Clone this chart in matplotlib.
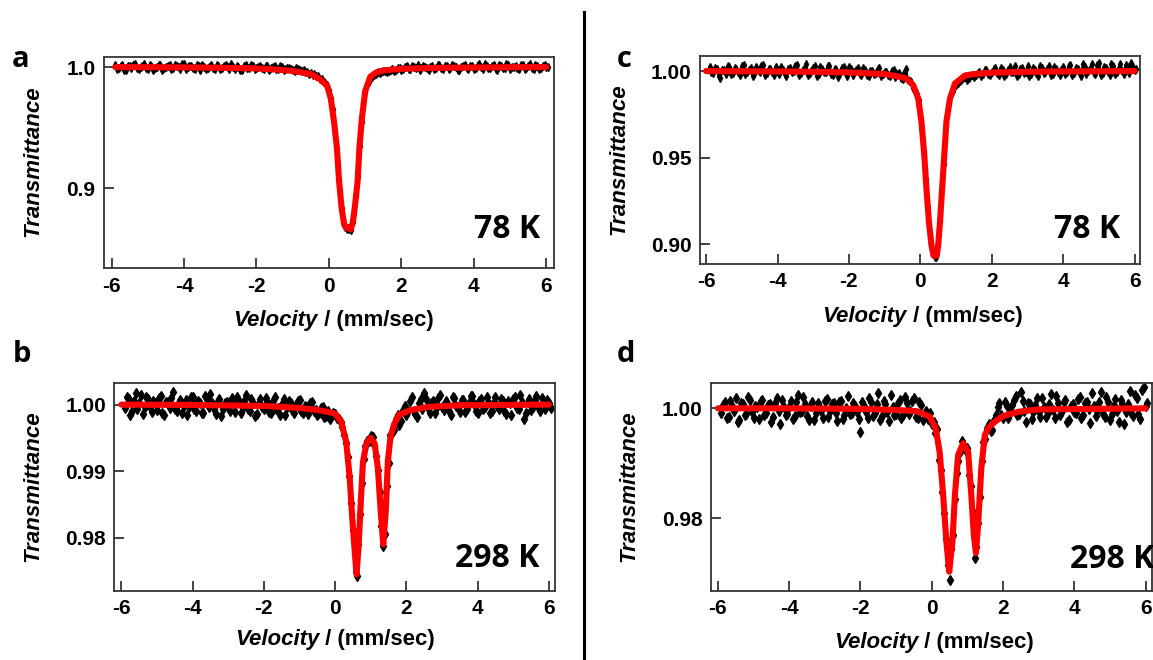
import numpy as np
import matplotlib
matplotlib.use("Agg")
import matplotlib.pyplot as plt
from matplotlib.lines import Line2D

# channel velocities (mm/s) of the measured points, shared by all four spectra
velocity = np.round(np.arange(-5.9, 6.05, 0.1), 2)
velocity2 = np.round(np.arange(-5.85, 6.06, 0.1), 2)

# a : 78 K
trans_a = [1.0015, 0.9992, 1.0020, 0.9975, 1.0006, 1.0018, 0.9988, 0.9997, 1.0022, 0.9981,
           1.0009, 0.9995, 1.0014, 0.9978, 1.0003, 1.0017, 0.9990, 1.0005, 0.9984, 1.0024,
           0.9996, 1.0011, 0.9980, 1.0008, 1.0019, 0.9987, 1.0001, 0.9993, 1.0016, 0.9983,
           1.0010, 0.9998, 1.0021, 0.9986, 1.0004, 0.9979, 1.0013, 0.9994, 1.0007, 0.9988,
           1.0012, 0.9982, 1.0005, 0.9991, 1.0008, 0.9985, 0.9996, 0.9980, 0.9992, 0.9978,
           0.9988, 0.9972, 0.9979, 0.9962, 0.9950, 0.9941, 0.9922, 0.9898, 0.9870, 0.9812,
           0.9655, 0.9388, 0.8985, 0.8742, 0.8668, 0.8652, 0.8796, 0.9102, 0.9548, 0.9795,
           0.9878, 0.9918, 0.9940, 0.9952, 0.9963, 0.9958, 0.9975, 0.9968, 0.9989, 0.9979,
           0.9996, 0.9983, 1.0008, 0.9990, 0.9977, 1.0012, 0.9995, 1.0004, 0.9981, 1.0015,
           0.9993, 1.0009, 0.9986, 1.0020, 0.9997, 0.9979, 1.0011, 0.9990, 1.0006, 0.9984,
           1.0018, 0.9996, 1.0023, 0.9988, 1.0007, 0.9980, 1.0014, 0.9993, 1.0021, 0.9985,
           1.0004, 0.9991, 1.0017, 0.9982, 1.0010, 0.9995, 1.0019, 0.9987, 1.0008, 1.0002]
trans_a2 = [0.9986, 1.0011, 0.9979, 1.0007, 0.9994, 1.0021, 0.9983, 1.0010, 0.9990, 1.0016,
            0.9977, 1.0004, 1.0019, 0.9989, 1.0008, 0.9981, 1.0013, 0.9997, 1.0022, 0.9985,
            1.0006, 0.9992, 1.0017, 0.9978, 1.0003, 0.9995, 1.0014, 0.9982, 1.0009, 0.9991,
            1.0018, 0.9984, 1.0002, 1.0011, 0.9976, 1.0007, 0.9993, 1.0015, 0.9980, 1.0004,
            0.9989, 1.0010, 0.9977, 1.0001, 0.9986, 1.0006, 0.9975, 0.9994, 0.9983, 0.9969,
            0.9981, 0.9965, 0.9958, 0.9946, 0.9938, 0.9925, 0.9905, 0.9878, 0.9848, 0.9742,
            0.9538, 0.9205, 0.8838, 0.8682, 0.8668, 0.8718, 0.8935, 0.9345, 0.9695, 0.9858,
            0.9915, 0.9938, 0.9955, 0.9962, 0.9971, 0.9966, 0.9982, 0.9973, 0.9992, 0.9987,
            1.0005, 0.9984, 0.9997, 1.0014, 0.9988, 1.0002, 0.9979, 1.0010, 0.9994, 1.0018,
            0.9985, 1.0007, 0.9991, 1.0012, 0.9977, 1.0003, 1.0016, 0.9986, 1.0009, 0.9992,
            1.0021, 0.9983, 1.0006, 0.9994, 1.0015, 0.9978, 1.0011, 0.9989, 1.0019, 0.9996,
            1.0008, 0.9981, 1.0013, 0.9993, 1.0024, 0.9986, 1.0005, 0.9990, 1.0017, 0.9999]
fit_v_a = [-5.9, -5.0, -4.0, -3.0, -2.0, -1.5, -1.0, -0.5, -0.25, -0.05, 0.05, 0.14, 0.22, 0.28,
           0.35, 0.42, 0.48, 0.54, 0.60, 0.66, 0.72, 0.79, 0.84, 0.91, 1.0, 1.14, 1.3, 1.5, 2.0,
           3.0, 4.0, 5.0, 6.0]
fit_t_a = [0.9999, 0.9998, 0.9997, 0.9994, 0.9988, 0.9980, 0.9968, 0.9942, 0.9900, 0.9845,
           0.9740, 0.9550, 0.9330, 0.9055, 0.8835, 0.8700, 0.8670, 0.8680, 0.8660, 0.8720,
           0.8860, 0.9055, 0.9330, 0.9580, 0.9800, 0.9920, 0.9955, 0.9972, 0.9985, 0.9993,
           0.9996, 0.9998, 0.9999]

# b : 298 K
trans_b = [0.9995, 1.0008, 0.9990, 1.0017, 1.0003, 0.9986, 1.0011, 0.9997, 1.0006, 0.9992,
           1.0013, 0.9985, 1.0004, 1.0010, 0.9993, 1.0001, 0.9988, 1.0007, 0.9996, 1.0012,
           0.9991, 1.0003, 0.9987, 1.0009, 1.0016, 0.9994, 1.0005, 0.9983, 1.0002, 0.9997,
           1.0010, 0.9989, 1.0006, 0.9995, 1.0014, 0.9991, 1.0002, 0.9986, 1.0008, 0.9993,
           1.0004, 0.9988, 1.0011, 0.9995, 1.0001, 0.9984, 1.0006, 0.9992, 0.9999, 1.0007,
           0.9987, 0.9996, 1.0002, 0.9990, 0.9985, 0.9995, 0.9981, 0.9990, 0.9984, 0.9986,
           0.9978, 0.9966, 0.9942, 0.9893, 0.9812, 0.9743, 0.9835, 0.9918, 0.9946, 0.9953,
           0.9940, 0.9902, 0.9818, 0.9805, 0.9912, 0.9958, 0.9978, 0.9969, 0.9992, 0.9985,
           1.0006, 0.9990, 0.9981, 1.0008, 1.0018, 0.9995, 1.0003, 0.9987, 1.0010, 0.9996,
           1.0005, 0.9991, 1.0012, 0.9998, 0.9989, 1.0007, 0.9994, 1.0013, 1.0001, 0.9988,
           1.0009, 0.9997, 1.0004, 0.9990, 1.0011, 0.9993, 1.0006, 0.9986, 1.0002, 1.0008,
           0.9995, 1.0015, 0.9978, 1.0004, 0.9992, 1.0007, 0.9997, 1.0010, 0.9994, 1.0003]
trans_b2 = [1.0012, 0.9984, 1.0005, 0.9993, 1.0015, 0.9997, 1.0008, 0.9989, 1.0002, 1.0010,
            0.9987, 1.0004, 0.9995, 1.0019, 0.9990, 1.0007, 0.9998, 0.9985, 1.0011, 0.9994,
            1.0006, 0.9988, 1.0013, 0.9996, 1.0002, 0.9986, 1.0009, 0.9993, 1.0004, 0.9990,
            1.0001, 1.0012, 0.9987, 1.0005, 0.9994, 1.0008, 0.9983, 1.0003, 0.9996, 1.0010,
            0.9989, 1.0006, 0.9993, 0.9984, 1.0008, 0.9997, 1.0003, 0.9988, 1.0005, 0.9991,
            0.9998, 0.9986, 1.0004, 0.9992, 0.9988, 0.9997, 0.9983, 0.9978, 0.9988, 0.9980,
            0.9974, 0.9955, 0.9921, 0.9852, 0.9776, 0.9790, 0.9882, 0.9938, 0.9945, 0.9951,
            0.9923, 0.9868, 0.9788, 0.9878, 0.9955, 0.9962, 0.9985, 0.9975, 0.9998, 0.9990,
            1.0012, 0.9986, 1.0003, 0.9994, 1.0009, 0.9988, 1.0006, 0.9997, 1.0014, 0.9992,
            1.0003, 0.9985, 1.0010, 0.9996, 1.0007, 0.9989, 1.0002, 1.0013, 0.9991, 1.0005,
            0.9994, 1.0011, 0.9987, 1.0004, 0.9998, 1.0009, 0.9990, 1.0006, 0.9984, 1.0012,
            0.9993, 1.0004, 0.9987, 1.0009, 0.9996, 1.0013, 0.9991, 1.0002, 1.0007, 0.9995]
fit_v_b = [-6.0, -4.0, -2.0, -1.0, -0.5, -0.2, 0.0, 0.17, 0.31, 0.41, 0.48, 0.55, 0.60, 0.66,
           0.72, 0.78, 0.88, 1.0, 1.11, 1.20, 1.28, 1.35, 1.42, 1.48, 1.55, 1.65, 1.8, 2.1, 2.6,
           3.5, 6.0]
fit_t_b = [1.0, 0.99995, 0.9998, 0.9995, 0.9992, 0.9989, 0.99865, 0.9974, 0.9944, 0.9889,
           0.9829, 0.9779, 0.9745, 0.9789, 0.9854, 0.9914, 0.99415, 0.9950, 0.99415, 0.9904,
           0.9839, 0.9790, 0.9840, 0.9915, 0.9950, 0.9970, 0.9985, 0.99915, 0.99965, 0.9999, 1.0]

# c : 78 K
trans_c = [1.0025, 0.9990, 1.0012, 0.9958, 1.0006, 1.0030, 0.9985, 1.0018, 0.9996, 1.0027,
           0.9981, 1.0009, 0.9970, 1.0022, 0.9993, 1.0035, 0.9988, 1.0014, 0.9976, 1.0004,
           1.0026, 0.9984, 1.0011, 0.9995, 1.0031, 0.9979, 1.0008, 1.0040, 0.9990, 1.0016,
           0.9973, 1.0021, 0.9997, 1.0028, 0.9982, 1.0010, 0.9968, 1.0019, 0.9992, 1.0024,
           0.9978, 1.0005, 0.9986, 1.0015, 0.9975, 1.0001, 0.9983, 1.0012, 0.9970, 0.9994,
           0.9979, 1.0003, 0.9966, 0.9988, 0.9952, 1.0014, 0.9945, 0.9905, 0.9868, 0.9760,
           0.9540, 0.9218, 0.9005, 0.8928, 0.9003, 0.9338, 0.9625, 0.9810, 0.9885, 0.9918,
           0.9942, 0.9960, 0.9948, 0.9972, 0.9965, 0.9988, 0.9970, 1.0004, 0.9981, 0.9993,
           1.0016, 0.9978, 1.0008, 0.9986, 1.0023, 0.9995, 0.9969, 1.0012, 0.9990, 1.0027,
           0.9981, 1.0005, 0.9974, 1.0018, 0.9997, 1.0030, 0.9984, 1.0010, 0.9976, 1.0021,
           0.9992, 1.0034, 0.9987, 1.0013, 0.9971, 1.0025, 0.9998, 1.0038, 0.9983, 1.0044,
           0.9990, 1.0016, 0.9978, 1.0029, 0.9995, 1.0041, 0.9986, 1.0023, 1.0048, 1.0007]
trans_c2 = [0.9994, 1.0019, 0.9972, 1.0008, 0.9986, 1.0024, 0.9990, 1.0013, 0.9978, 1.0033,
            0.9995, 1.0017, 0.9983, 1.0006, 1.0029, 0.9976, 1.0011, 0.9992, 1.0025, 0.9981,
            1.0009, 0.9969, 1.0020, 0.9998, 1.0036, 0.9987, 1.0014, 0.9975, 1.0003, 1.0027,
            0.9984, 1.0012, 0.9993, 1.0031, 0.9977, 1.0006, 0.9989, 1.0022, 0.9971, 1.0010,
            0.9996, 1.0018, 0.9980, 1.0007, 0.9969, 1.0003, 0.9988, 1.0015, 0.9982, 0.9997,
            0.9974, 1.0008, 0.9985, 0.9960, 0.9991, 0.9948, 0.9935, 0.9892, 0.9835, 0.9655,
            0.9378, 0.9090, 0.8960, 0.8925, 0.9135, 0.9462, 0.9738, 0.9860, 0.9908, 0.9932,
            0.9951, 0.9966, 0.9958, 0.9980, 0.9975, 0.9994, 0.9983, 1.0009, 0.9977, 1.0012,
            0.9988, 1.0020, 0.9972, 1.0006, 0.9993, 1.0028, 0.9982, 1.0015, 0.9996, 0.9973,
            1.0019, 0.9987, 1.0032, 0.9991, 1.0011, 0.9979, 1.0026, 0.9994, 1.0008, 0.9985,
            1.0030, 0.9975, 1.0017, 0.9996, 1.0039, 0.9982, 1.0012, 0.9990, 1.0035, 0.9978,
            1.0022, 0.9993, 1.0043, 0.9984, 1.0016, 0.9998, 1.0037, 0.9989, 1.0026, 1.0011]
fit_v_c = [-6.0, -4.0, -3.0, -2.0, -1.5, -1.0, -0.6, -0.4, -0.2, -0.06, 0.03, 0.11, 0.17, 0.24,
           0.31, 0.37, 0.41, 0.46, 0.50, 0.55, 0.61, 0.67, 0.73, 0.83, 0.97, 1.25, 1.6, 2.0,
           3.0, 4.0, 6.0]
fit_t_c = [1.0, 0.9998, 0.9996, 0.9992, 0.9988, 0.9983, 0.9968, 0.9958, 0.9919, 0.9842,
           0.9708, 0.9516, 0.9323, 0.9130, 0.8997, 0.8935, 0.8945, 0.8935, 0.8997, 0.9130,
           0.9323, 0.9516, 0.9708, 0.9842, 0.9929, 0.9975, 0.9985, 0.9991, 0.9996, 0.9998, 1.0]

# d : 298 K
trans_d = [0.9992, 1.0012, 0.9985, 1.0004, 1.0018, 0.9979, 1.0008, 0.9990, 1.0015, 0.9983,
           1.0002, 1.0013, 0.9987, 1.0006, 0.9976, 1.0010, 0.9995, 1.0016, 0.9988, 1.0003,
           0.9981, 1.0011, 0.9993, 1.0020, 0.9986, 1.0005, 0.9978, 1.0009, 0.9996, 1.0014,
           0.9984, 1.0007, 0.9991, 1.0012, 0.9980, 1.0001, 0.9989, 1.0010, 0.9994, 0.9957,
           1.0005, 0.9983, 1.0012, 0.9992, 1.0027, 0.9986, 1.0008, 0.9977, 1.0003, 0.9990,
           1.0015, 0.9988, 1.0010, 0.9996, 1.0018, 0.9983, 1.0006, 0.9989, 0.9981, 0.9972,
           0.9955, 0.9906, 0.9848, 0.9762, 0.9688, 0.9770, 0.9882, 0.9920, 0.9930, 0.9928,
           0.9858, 0.9727, 0.9792, 0.9905, 0.9945, 0.9972, 0.9961, 0.9988, 1.0009, 0.9983,
           1.0004, 0.9992, 1.0016, 0.9987, 1.0030, 0.9995, 1.0010, 0.9981, 1.0006, 0.9993,
           1.0019, 0.9984, 1.0008, 0.9997, 1.0022, 0.9988, 1.0011, 0.9976, 1.0005, 0.9994,
           1.0017, 0.9982, 1.0009, 0.9999, 1.0028, 0.9986, 1.0012, 0.9990, 1.0021, 0.9979,
           1.0006, 0.9995, 1.0015, 0.9972, 1.0008, 0.9991, 1.0024, 0.9989, 1.0033, 1.0004]
trans_d2 = [1.0006, 0.9982, 1.0014, 0.9995, 0.9975, 1.0010, 0.9988, 1.0021, 0.9993, 1.0004,
            0.9980, 1.0016, 0.9991, 1.0008, 0.9985, 1.0019, 0.9972, 1.0003, 0.9990, 1.0013,
            0.9986, 1.0024, 0.9995, 1.0007, 0.9979, 1.0012, 0.9992, 1.0005, 0.9983, 1.0017,
            0.9996, 1.0009, 0.9977, 1.0014, 0.9988, 1.0022, 0.9991, 1.0004, 0.9981, 1.0011,
            0.9994, 1.0018, 0.9986, 1.0007, 0.9979, 1.0013, 0.9993, 1.0025, 0.9987, 1.0009,
            0.9982, 1.0020, 0.9990, 1.0014, 0.9985, 1.0011, 0.9978, 0.9995, 0.9992, 0.9976,
            0.9962, 0.9888, 0.9810, 0.9716, 0.9745, 0.9835, 0.9905, 0.9940, 0.9922, 0.9878,
            0.9812, 0.9748, 0.9838, 0.9938, 0.9965, 0.9958, 0.9979, 1.0002, 0.9987, 1.0011,
            0.9983, 1.0006, 1.0022, 0.9990, 1.0013, 0.9976, 1.0008, 0.9994, 1.0018, 0.9985,
            1.0003, 0.9991, 1.0026, 0.9983, 1.0010, 0.9996, 1.0015, 0.9978, 1.0007, 0.9992,
            1.0020, 0.9987, 1.0011, 0.9974, 1.0005, 0.9995, 1.0029, 0.9984, 1.0012, 0.9990,
            1.0017, 0.9976, 1.0008, 0.9993, 1.0031, 0.9986, 1.0019, 0.9981, 1.0038, 1.0009]
fit_v_d = [-6.0, -4.0, -2.0, -1.0, -0.43, -0.06, 0.11, 0.22, 0.32, 0.41, 0.49, 0.58, 0.65,
           0.74, 0.88, 1.02, 1.11, 1.18, 1.24, 1.30, 1.39, 1.49, 1.6, 1.71, 2.0, 2.43, 3.0, 6.0]
fit_t_d = [1.0, 1.0, 0.9999, 0.9997, 0.9995, 0.9985, 0.99636, 0.9921, 0.98424, 0.97575,
           0.9703, 0.97575, 0.98424, 0.9915, 0.99364, 0.9921, 0.98424, 0.9770, 0.9737, 0.97878,
           0.98909, 0.99515, 0.9965, 0.99727, 0.9986, 0.99938, 0.9998, 1.0]

temps = ["78 K", "298 K", "78 K", "298 K"]
letters = ["a", "b", "c", "d"]

for arr in (trans_a, trans_b, trans_c, trans_d):
    assert len(arr) == len(velocity), len(arr)
for arr in (trans_a2, trans_b2, trans_c2, trans_d2):
    assert len(arr) == len(velocity2), len(arr)

W, H = 1153, 660
fig = plt.figure(figsize=(W / 100, H / 100), dpi=100)

def px_axes(left, top, right, bottom):
    return fig.add_axes([left / W, 1 - bottom / H, (right - left) / W, (bottom - top) / H])

panels = [
    dict(box=(103.6, 56.7, 553.6, 268.3), xlim=(-6.22, 6.2), ylim=(0.834, 1.0085),
         yt=[0.9, 1.0], fmt="%.1f", split=0.476, xlab_y=-0.273, ylab_x=-0.157,
         tx=0.97, ty=0.142, dense=True, data=(trans_a, trans_a2), fv=fit_v_a, ft=fit_t_a,
         letter=(11.7, 66.7)),
    dict(box=(114.3, 383.3, 554.6, 590.7), xlim=(-6.2, 6.16), ylim=(0.97205, 1.0032),
         yt=[0.98, 0.99, 1.0], fmt="%.2f", split=0.466, xlab_y=-0.262, ylab_x=-0.185,
         tx=0.965, ty=0.113, dense=False, data=(trans_b, trans_b2), fv=fit_v_b, ft=fit_t_b,
         letter=(12.5, 361.7)),
    dict(box=(700.0, 56.0, 1140.0, 264.0), xlim=(-6.17, 6.15), ylim=(0.8887, 1.0087),
         yt=[0.90, 0.95, 1.0], fmt="%.2f", split=0.47, xlab_y=-0.277, ylab_x=-0.184,
         tx=0.955, ty=0.124, dense=True, data=(trans_c, trans_c2), fv=fit_v_c, ft=fit_t_c,
         letter=(616.5, 66.7)),
    dict(box=(710.8, 383.3, 1152.0, 590.7), xlim=(-6.2, 6.18), ylim=(0.96684, 1.00455),
         yt=[0.98, 1.0], fmt="%.2f", split=0.47, xlab_y=-0.278, ylab_x=-0.185,
         tx=1.005, ty=0.108, dense=False, data=(trans_d, trans_d2), fv=fit_v_d, ft=fit_t_d,
         letter=(616.5, 361.7)),
]

tick_font = dict(family="Liberation Sans", weight="bold", size=15)
label_kw = dict(family="Liberation Sans", weight="bold", size=16)

for i, p in enumerate(panels):
    ax = px_axes(*p["box"])
    v = np.concatenate([velocity, velocity2])
    t = np.concatenate([p["data"][0], p["data"][1]])
    order = np.argsort(v)
    if p["dense"]:
        ax.plot(v[order], t[order], color="black", lw=1.6, marker="d", ms=4.2, zorder=2)
    else:
        ax.plot(v[order], t[order], ls="none", color="black", marker="d", ms=5, zorder=2)
    ax.plot(p["fv"], p["ft"], color="#ff0000", lw=4.4, solid_capstyle="round", zorder=3)

    ax.set_xlim(*p["xlim"])
    ax.set_ylim(*p["ylim"])
    ax.set_xticks([-6, -4, -2, 0, 2, 4, 6])
    ax.set_xticklabels(["-6", "-4", "-2", "0", "2", "4", "6"], fontdict=tick_font)
    ax.set_yticks(p["yt"])
    ax.set_yticklabels([p["fmt"] % y for y in p["yt"]], fontdict=tick_font)
    ax.tick_params(direction="in", length=7, width=1.2, color="#222222", pad=6)
    for s in ax.spines.values():
        s.set_linewidth(1.3)
        s.set_color("#333333")

    # x label: italic "Velocity" followed by upright " / (mm/sec)"
    t1 = ax.text(p["split"], p["xlab_y"], "Velocity", transform=ax.transAxes, ha="right",
                 va="baseline", style="italic", **label_kw)
    ax.annotate(" / (mm/sec)", xy=(1, 0), xycoords=t1, ha="left", va="bottom", **label_kw)
    ax.text(p["ylab_x"], 0.505, "Transmittance", transform=ax.transAxes, rotation=90,
            ha="center", va="center", style="italic", **label_kw)

    ax.text(p["tx"], p["ty"], temps[i], transform=ax.transAxes, ha="right", va="baseline",
            family="Open Sans", weight="bold", size=23, clip_on=False)

    lx, ly = p["letter"]
    fig.text(lx / W, 1 - ly / H, letters[i], ha="left", va="baseline",
             family="Open Sans", weight="bold", size=21)

# divider between the two columns
fig.add_artist(Line2D([584 / W, 584 / W], [0, 1 - 12 / H], color="black", lw=2.2))

fig.savefig("out.png", dpi=100)
